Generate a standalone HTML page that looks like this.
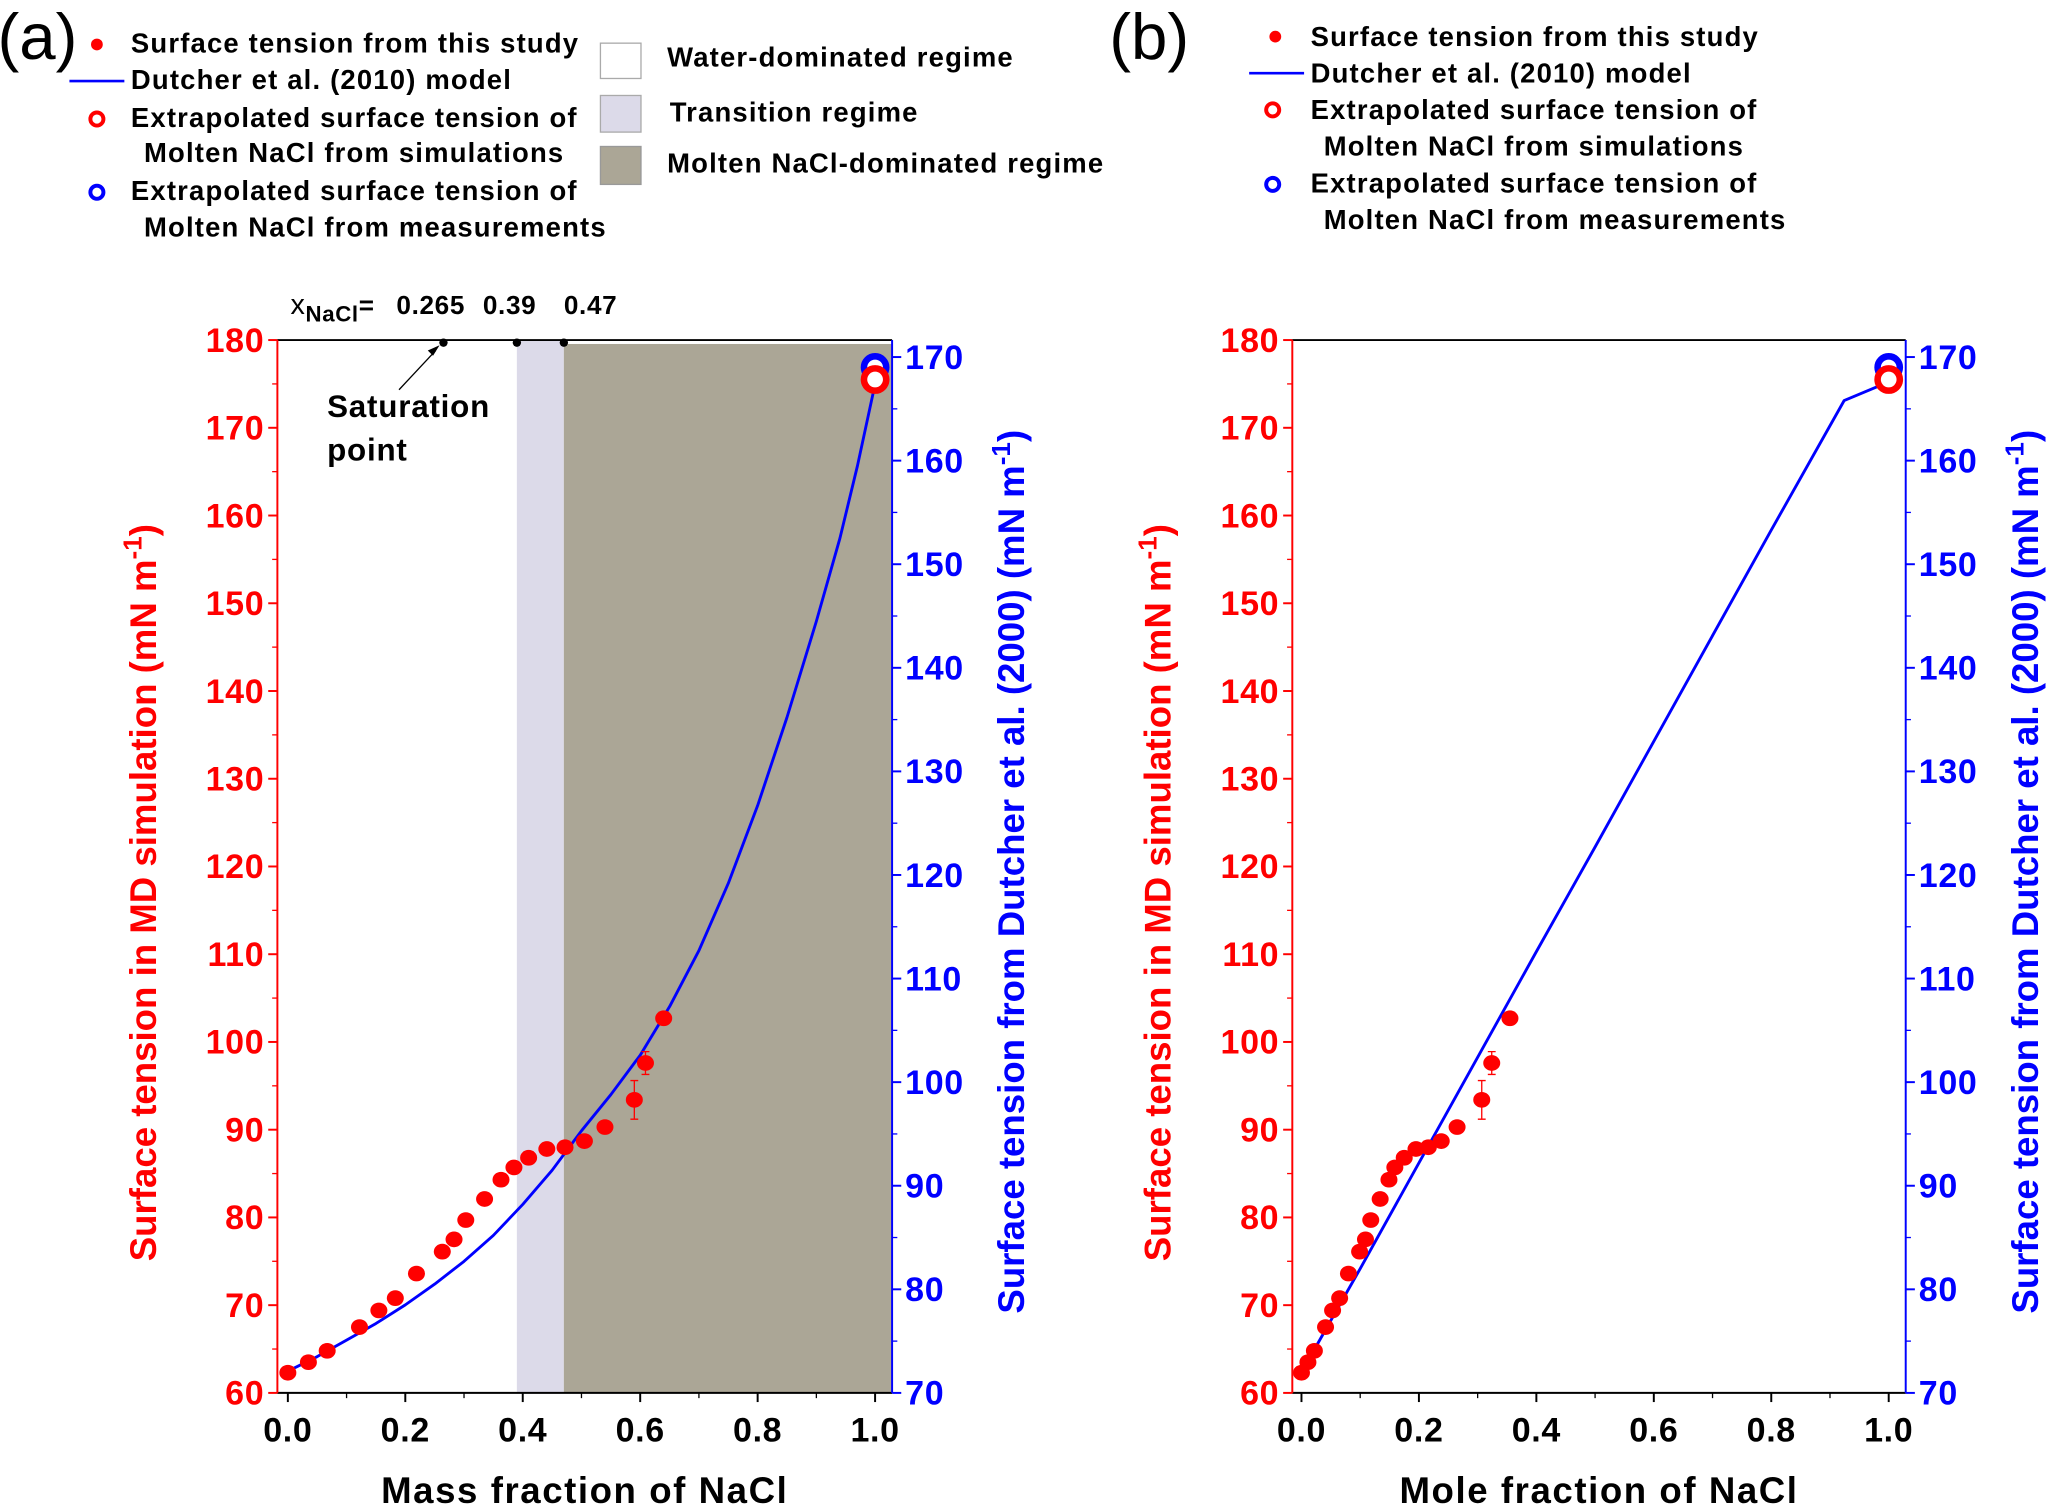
<!DOCTYPE html>
<html><head><meta charset="utf-8"><style>
html,body{margin:0;padding:0;background:#fff;}
svg{display:block;}
text{font-family:"Liberation Sans",Arial,sans-serif;}
.b{font-weight:bold;}
.lg{font-size:21px;font-weight:bold;letter-spacing:0.9px;}
</style></head><body>
<svg id="fig" width="2051" height="1508" viewBox="0 0 1568 1153" xmlns="http://www.w3.org/2000/svg">
<rect x="0" y="0" width="1568" height="1153" fill="#fff"/>
<g id="legend-a">
<text x="-2" y="45" font-size="50">(a)</text>
<circle cx="74" cy="34" r="4.5" fill="#f00"/>
<text x="100" y="40" class="lg">Surface tension from  this study</text>
<line x1="53" y1="62" x2="95" y2="62" stroke="#00f" stroke-width="2"/>
<text x="100" y="68" class="lg">Dutcher et al. (2010) model</text>
<circle cx="74" cy="91" r="5" fill="none" stroke="#f00" stroke-width="3"/>
<text x="100" y="97" class="lg">Extrapolated surface tension of</text>
<text x="110" y="124" class="lg">Molten NaCl from simulations</text>
<circle cx="74" cy="147" r="5" fill="none" stroke="#00f" stroke-width="3"/>
<text x="100" y="153" class="lg">Extrapolated surface tension of</text>
<text x="110" y="181" class="lg">Molten NaCl from measurements</text>
<rect x="459" y="33" width="31" height="27" fill="#fff" stroke="#aaa"/>
<text x="510" y="51" class="lg">Water-dominated regime</text>
<rect x="459" y="73" width="31" height="28" fill="#dcdae9" stroke="#aaa"/>
<text x="512" y="93" class="lg">Transition regime</text>
<rect x="459" y="112" width="31" height="29" fill="#aba696" stroke="#999"/>
<text x="510" y="132" class="lg">Molten NaCl-dominated regime</text>
</g>
<g id="legend-b">
<text x="848" y="45" font-size="50">(b)</text>
<circle cx="975" cy="28" r="4.5" fill="#f00"/>
<text x="1002" y="35" class="lg">Surface tension from  this study</text>
<line x1="955" y1="56" x2="997" y2="56" stroke="#00f" stroke-width="2"/>
<text x="1002" y="63" class="lg">Dutcher et al. (2010) model</text>
<circle cx="973" cy="84" r="5" fill="none" stroke="#f00" stroke-width="3"/>
<text x="1002" y="91" class="lg">Extrapolated surface tension of</text>
<text x="1012" y="119" class="lg">Molten NaCl from simulations</text>
<circle cx="973" cy="141" r="5" fill="none" stroke="#00f" stroke-width="3"/>
<text x="1002" y="147" class="lg">Extrapolated surface tension of</text>
<text x="1012" y="175" class="lg">Molten NaCl from measurements</text>
</g>
</svg>
<script>
// ---- data ----
const massFrac = [0,0.035,0.067,0.122,0.155,0.183,0.219,0.263,0.283,0.303,0.335,0.363,0.385,0.41,0.441,0.472,0.505,0.54,0.59,0.609,0.64];
const moleFrac = [0,0.011,0.022,0.041,0.053,0.065,0.080,0.099,0.109,0.118,0.134,0.149,0.159,0.175,0.195,0.216,0.238,0.265,0.307,0.324,0.355];
const mdTension = [62.3,63.5,64.8,67.5,69.4,70.8,73.6,76.1,77.5,79.7,82.1,84.3,85.7,86.8,87.8,88.0,88.7,90.3,93.4,97.6,102.7];
const mdError = [0,0,0,0,0,0,0,0,0,0,0,0,0,0,0,0,0,0,2.2,1.3,0];
const modelMassX = [0,0.05,0.1,0.15,0.2,0.25,0.3,0.35,0.4,0.45,0.5,0.55,0.6,0.65,0.7,0.75,0.8,0.85,0.9,0.94,0.97,1.0];
const modelMassY = [72.1,73.5,75.1,76.7,78.5,80.5,82.7,85.2,88.2,91.5,95.3,98.8,102.6,107.3,112.7,119.2,126.7,135.2,144.5,152.5,159.5,167.4];
const modelMoleX = [0,0.1,0.2,0.3,0.4,0.5,0.6,0.7,0.8,0.924,1.0];
const modelMoleY = [72,82,92.2,102.4,112.6,122.7,132.9,143.1,153.3,165.8,167.6];
const simExtrap = 175.5;   // left axis
const measExtrap = 169;    // right axis
const regimeBounds = [0.39,0.47];
const satMarks = [0.265,0.39,0.47];
const satLabels = ["0.265","0.39","0.47"];
const xTicks = [0,0.2,0.4,0.6,0.8,1.0];
const xTickLabels = ["0.0","0.2","0.4","0.6","0.8","1.0"];
const leftTicks = [60,70,80,90,100,110,120,130,140,150,160,170,180];
const rightTicks = [70,80,90,100,110,120,130,140,150,160,170];
const satLabelShift = [-36,-26,0];

const NS = "http://www.w3.org/2000/svg";
const svg = document.getElementById('fig');
function mk(tag, attrs, parent, txt){
  const e = document.createElementNS(NS, tag);
  for (const k in attrs) e.setAttribute(k, attrs[k]);
  if (txt !== undefined) e.textContent = txt;
  (parent||svg).appendChild(e);
  return e;
}

function panel(cfg){
  const g = mk('g', {});
  
  
  const L = cfg.left, R = cfg.right, T = 260, B = 1065;
  const x0 = cfg.x0, x1 = cfg.x1;
  const X = v => x0 + (x1 - x0) * v;
  const YL = v => B - (v - 60) * (B - T) / 120;
  const YR = v => B - (v - 70) * (B - 273) / 100;

  if (cfg.regimes){
    const tr = mk('rect', {x:X(regimeBounds[0]), y:T, width:X(regimeBounds[1])-X(regimeBounds[0]), height:B-T, fill:'#dcdae9'}, g);
    
    
    const mo = mk('rect', {x:X(regimeBounds[1]), y:T+3, width:R-X(regimeBounds[1]), height:B-T-3, fill:'#aba696'}, g);
    
    
  }
  const top = mk('line', {x1:L, y1:T, x2:R, y2:T, stroke:'#000', 'stroke-width':1.5}, g);
  
  
  const bot = mk('line', {x1:L, y1:B, x2:R, y2:B, stroke:'#000', 'stroke-width':1.5}, g);
  
  
  const la = mk('line', {x1:L, y1:T, x2:L, y2:B, stroke:'#f00', 'stroke-width':1.5}, g);
  
  
  const ra = mk('line', {x1:R, y1:T, x2:R, y2:B, stroke:'#00f', 'stroke-width':1.5}, g);
  
  

  xTicks.forEach((v,i)=>{
    mk('line', {x1:X(v), y1:B, x2:X(v), y2:B+7, stroke:'#000', 'stroke-width':1.5}, g);
    if (i < xTicks.length-1) mk('line', {x1:X(v+0.1), y1:B, x2:X(v+0.1), y2:B+4, stroke:'#000', 'stroke-width':1}, g);
    const t = mk('text', {x:X(v), y:B+37, 'font-size':26, 'font-weight':'bold', 'text-anchor':'middle', 'letter-spacing':0.5}, g, xTickLabels[i]);
    
    
  });
  leftTicks.forEach(v=>{
    mk('line', {x1:L, y1:YL(v), x2:L-7, y2:YL(v), stroke:'#f00', 'stroke-width':1.5}, g);
    if (v < 180) mk('line', {x1:L, y1:YL(v+5), x2:L-4, y2:YL(v+5), stroke:'#f00', 'stroke-width':1}, g);
    const t = mk('text', {x:L-10, y:YL(v)+9, 'font-size':26, 'font-weight':'bold', fill:'#f00', 'text-anchor':'end', 'letter-spacing':0.5}, g, String(v));
    
    
  });
  rightTicks.forEach(v=>{
    mk('line', {x1:R, y1:YR(v), x2:R+7, y2:YR(v), stroke:'#00f', 'stroke-width':1.5}, g);
    if (v < 170) mk('line', {x1:R, y1:YR(v+5), x2:R+4, y2:YR(v+5), stroke:'#00f', 'stroke-width':1}, g);
    const t = mk('text', {x:R+10, y:YR(v)+9, 'font-size':26, 'font-weight':'bold', fill:'#00f', 'letter-spacing':0.5}, g, String(v));
    
    
  });

  const mx = cfg.modelX, my = cfg.modelY;
  const d = mx.map((v,i)=>(i?'L':'M')+X(v).toFixed(1)+','+YR(my[i]).toFixed(1)).join(' ');
  const ln = mk('path', {d:d, fill:'none', stroke:'#00f', 'stroke-width':2.2, 'stroke-linejoin':'round'}, g);
  
  

  cfg.px.forEach((v,i)=>{
    if (mdError[i] > 0){
      const eb = mk('path', {d:`M${X(v)},${YL(mdTension[i]-mdError[i])}V${YL(mdTension[i]+mdError[i])}M${X(v)-3},${YL(mdTension[i]-mdError[i])}h6M${X(v)-3},${YL(mdTension[i]+mdError[i])}h6`, stroke:'#f00', 'stroke-width':1, fill:'none'}, g);
      
      
    }
    const c = mk('ellipse', {cx:X(v), cy:YL(mdTension[i]), rx:6.5, ry:6, fill:'#f00'}, g);
    
    
  });
  const bc = mk('circle', {cx:X(1), cy:YR(measExtrap), r:8.5, fill:'#fff', stroke:'#00f', 'stroke-width':5}, g);
  
  
  const rc = mk('circle', {cx:X(1), cy:YL(simExtrap), r:8.5, fill:'#fff', stroke:'#f00', 'stroke-width':5}, g);
  
  

  const xt = mk('text', {x:(L+R)/2, y:1149, 'font-size':28, 'font-weight':'bold', 'text-anchor':'middle', 'letter-spacing':1.2}, g, cfg.xTitle);
  
  
  const lt = mk('text', {transform:`translate(${L-93},${(T+B)/2+20}) rotate(-90)`, 'font-size':28, 'font-weight':'bold', fill:'#f00', 'text-anchor':'middle'}, g);
  lt.innerHTML = 'Surface tension in MD simulation (mN m<tspan dy="-11" font-size="20">-1</tspan><tspan dy="11">)</tspan>';
  
  
  const rt = mk('text', {transform:`translate(${R+101},${(T+B)/2+4}) rotate(-90)`, 'font-size':28, 'font-weight':'bold', fill:'#00f', 'text-anchor':'middle'}, g);
  rt.innerHTML = 'Surface tension from Dutcher et al. (2000)  (mN m<tspan dy="-11" font-size="20">-1</tspan><tspan dy="11">)</tspan>';
  
  

  if (cfg.regimes){
    satMarks.forEach((v,i)=>{
      const dot = mk('circle', {cx:X(v), cy:262, r:3.2, fill:'#000'}, g);
      
      
      const lb = mk('text', {x:X(v)+satLabelShift[i], y:240, 'font-size':20, 'font-weight':'bold', 'letter-spacing':0.5}, g, satLabels[i]);
      
      
    });
    const xl = mk('text', {x:222, y:240, 'font-size':20, 'font-weight':'bold', 'letter-spacing':0.5}, g);
    xl.innerHTML = '<tspan font-weight="normal" font-size="22">x</tspan><tspan dy="6" font-size="17">NaCl</tspan><tspan dy="-6">=</tspan>';
    
    
    const ar = mk('path', {d:'M305,298 L333,268', stroke:'#000', 'stroke-width':1, fill:'none'}, g);
    
    
    mk('path', {d:'M336,264 L327,268 L331,272 Z', fill:'#000'}, g);
    const s1 = mk('text', {x:250, y:319, 'font-size':24, 'font-weight':'bold', 'letter-spacing':0.6}, g, 'Saturation');
    
    
    const s2 = mk('text', {x:250, y:352, 'font-size':24, 'font-weight':'bold', 'letter-spacing':0.6}, g, 'point');
    
    
  }
}

panel({id:'panel-a', left:212, right:682, x0:220, x1:669, px:massFrac, modelX:modelMassX, modelY:modelMassY, xTitle:'Mass  fraction of NaCl', regimes:true});
panel({id:'panel-b', left:988, right:1457, x0:995, x1:1444, px:moleFrac, modelX:modelMoleX, modelY:modelMoleY, xTitle:'Mole  fraction of NaCl', regimes:false});
</script>
</body></html>
